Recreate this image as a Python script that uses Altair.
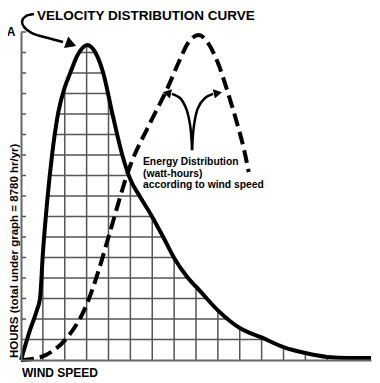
import altair as alt
import pandas as pd

# Velocity distribution curve (hours vs wind speed), grid units
vel_x = [0, 0.41, 0.73, 0.87, 1.0, 1.19, 1.42, 1.70, 2.0, 2.25, 2.6, 3.03, 3.4, 3.76, 4.17,
         4.63, 5.0, 5.45, 6.0, 6.5, 7.0, 7.6, 8.2, 9.0, 10.0, 11.0, 12.0, 13.0, 14.0, 15.0, 16.0]
vel_y = [0, 1.46, 2.44, 3.0, 5.2, 7.66, 10.0, 12.05, 13.3, 14.0, 14.9, 15.37, 15.0, 14.0, 12.05,
         10.0, 8.8, 7.95, 6.98, 6.0, 4.98, 4.05, 3.35, 2.42, 1.56, 1.1, 0.63, 0.34, 0.15, 0.1, 0.1]

# Energy distribution curve (dashed)
en_x = [0, 0.78, 1.4, 2.02, 3.03, 3.5, 4.0, 5.0, 5.92, 6.7, 7.2, 7.66, 8.12, 8.53, 9.0, 9.5, 9.9, 10.18, 10.41]
en_y = [0, 0.1, 0.4, 0.98, 2.78, 4.2, 6.0, 9.5, 11.6, 13.27, 14.5, 15.5, 15.85, 15.5, 14.5, 12.9, 11.46, 10.34, 9.17]

grid_vals = list(range(1, 16))
tick_vals = list(range(1, 17))

# annotation arrow paths
title_arrow_x = [0.59, 0.23, 0.05, 0.14, 0.5, 1.23, 1.92]
title_arrow_y = [16.88, 16.78, 16.54, 16.24, 15.95, 15.71, 15.51]
left_arrow_x = [7.82, 7.73, 7.54, 7.27, 6.9]
left_arrow_y = [10.24, 11.46, 12.29, 12.78, 12.98]
right_arrow_x = [7.82, 7.91, 8.09, 8.41, 8.78]
right_arrow_y = [10.24, 11.46, 12.29, 12.78, 12.98]
head_x = [2.29, 6.67, 9.0]
head_y = [15.41, 13.02, 13.02]
head_shape = ["triangle-right", "triangle-left", "triangle-right"]
head_angle = [20, 12, 348]
head_size = [150, 90, 90]

FONT = "Liberation Sans"
xs = alt.Scale(domain=[0, 16], nice=False, zero=False)
ys = alt.Scale(domain=[0, 16], nice=False, zero=False)
ax = alt.Axis(title=None, labels=False, ticks=False, grid=False,
              domainColor="#666", domainWidth=2, zindex=1)


def X(f):
    return alt.X(f, type="quantitative", scale=xs, axis=ax)


def Y(f):
    return alt.Y(f, type="quantitative", scale=ys, axis=ax)


vel = pd.DataFrame({"x": vel_x, "y": vel_y})
en = pd.DataFrame({"x": en_x, "y": en_y})

vgrid = alt.Chart(pd.DataFrame({"v": grid_vals})).mark_rule(color="#555", strokeWidth=1.5).encode(
    x=X("v"), y=alt.value(0), y2=alt.value(328))
hgrid = alt.Chart(pd.DataFrame({"v": grid_vals})).mark_rule(color="#555", strokeWidth=1.5).encode(
    y=Y("v"), x=alt.value(0), x2=alt.value(350))
mask = alt.Chart(vel).mark_area(fill="white", stroke="white", strokeWidth=1, opacity=1,
                                fillOpacity=1, interpolate="monotone").encode(
    x=X("x"), y=Y("y"), y2=alt.datum(16.1))
ticks = alt.Chart(pd.DataFrame({"v": tick_vals})).mark_rule(color="#555", strokeWidth=1.5).encode(
    y=Y("v"), x=alt.value(0), x2=alt.value(5))
vel_line = alt.Chart(vel).mark_line(color="black", strokeWidth=4, interpolate="monotone").encode(
    x=X("x"), y=Y("y"))
en_line = alt.Chart(en).mark_line(color="black", strokeWidth=4, strokeDash=[13, 6],
                                  interpolate="monotone").encode(x=X("x"), y=Y("y"))

arr = pd.DataFrame({
    "x": title_arrow_x + left_arrow_x + right_arrow_x,
    "y": title_arrow_y + left_arrow_y + right_arrow_y,
    "g": ["t"] * len(title_arrow_x) + ["l"] * len(left_arrow_x) + ["r"] * len(right_arrow_x),
    "i": list(range(len(title_arrow_x))) + list(range(len(left_arrow_x))) + list(range(len(right_arrow_x))),
})
arrows = alt.Chart(arr).mark_line(color="black", strokeWidth=2.5, interpolate="catmull-rom").encode(
    x=X("x"), y=Y("y"), detail="g:N", order="i:Q")

heads_df = pd.DataFrame({"x": head_x, "y": head_y, "s": head_shape, "a": head_angle, "z": head_size})
heads = alt.Chart(heads_df).mark_point(filled=True, color="black", opacity=1, strokeWidth=0).encode(
    x=X("x"), y=Y("y"),
    shape=alt.Shape("s:N", scale=None, legend=None),
    angle=alt.Angle("a:Q", scale=None),
    size=alt.Size("z:Q", scale=None, legend=None))


def label(txt, px, py, **kw):
    return alt.Chart(pd.DataFrame({"t": [txt]})).mark_text(font=FONT, fontWeight="bold", color="black", **kw).encode(
        x=alt.value(px), y=alt.value(py), text="t:N")


title_t = label("VELOCITY DISTRIBUTION CURVE", 16, -12, fontSize=13.5, align="left", baseline="alphabetic")
a_t = label("A", -10, 0, fontSize=12, align="center", baseline="middle")
ylab = label("HOURS (total under graph = 8780 hr/yr)", -3, 326, fontSize=11.5, align="left",
             baseline="alphabetic", angle=270)
xlab = label("WIND SPEED", 1, 345, fontSize=12, align="left", baseline="alphabetic")
energy_t = label("Energy Distribution\n(watt-hours)\naccording to wind speed", 122, 133, fontSize=10.3,
                 align="left", baseline="alphabetic", lineBreak="\n", lineHeight=11.5)

chart = alt.layer(
    vgrid, hgrid, mask, ticks, vel_line, en_line, arrows, heads,
    title_t, a_t, ylab, xlab, energy_t
).properties(
    width=350, height=328,
    autosize=alt.AutoSizeParams(type="none"),
    padding={"left": 13, "top": 24, "right": 1, "bottom": 30},
).configure_view(stroke=None)

chart.save("out.html", embed_options={"renderer": "svg", "actions": False})
